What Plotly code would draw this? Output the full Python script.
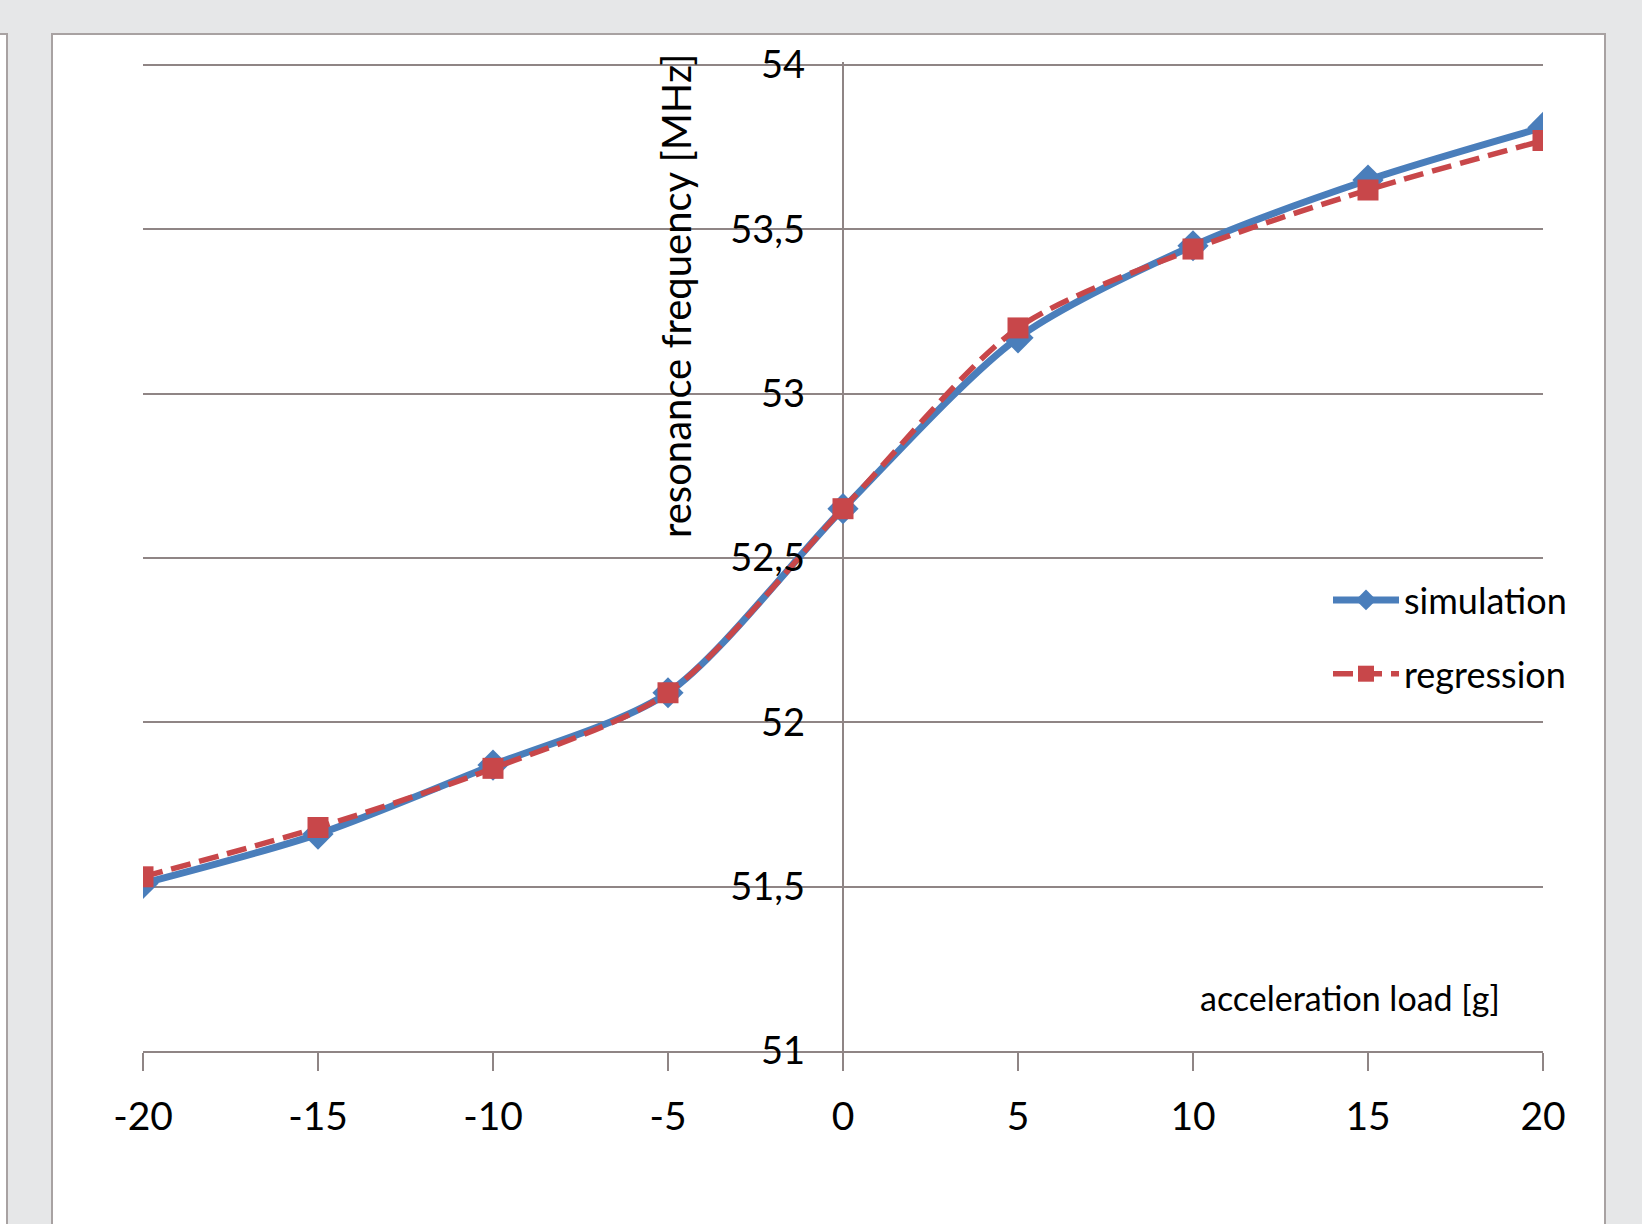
import plotly.graph_objects as go

# acceleration load [g]
load_g = [-20, -15, -10, -5, 0, 5, 10, 15, 20]
# resonance frequency [MHz]
simulation = [51.51, 51.66, 51.87, 52.09, 52.65, 53.17, 53.45, 53.65, 53.81]
regression = [51.53, 51.68, 51.86, 52.09, 52.65, 53.20, 53.44, 53.62, 53.77]

x_ticks = [-20, -15, -10, -5, 0, 5, 10, 15, 20]
x_tick_text = [str(v) for v in x_ticks]
y_ticks = [51, 51.5, 52, 52.5, 53, 53.5, 54]

W, H = 1642, 1224
FONT = "Lato"
GRID = "#8f8585"
BLUE = "#4a7ebb"
RED = "#c8474a"

# y range padded a hair above 54 so the top grid line is kept
Y_LO, Y_HI = 50.999, 54.01
Y_PX_PER_UNIT = (1051 - 65) / 3.0


def px(x):
    return x / W


def py(y):
    return 1 - y / H


fig = go.Figure()

fig.add_trace(go.Scatter(
    x=load_g, y=simulation, name="simulation", mode="lines+markers",
    line=dict(color=BLUE, width=7, shape="spline", smoothing=0.8),
    marker=dict(symbol="diamond", size=24, color=BLUE),
    legendgroup="a",
))
fig.add_trace(go.Scatter(
    x=load_g, y=regression, name="regression", mode="lines+markers",
    line=dict(color=RED, width=5.5, shape="spline", smoothing=0.8, dash="20px,9px"),
    marker=dict(symbol="square", size=21, color=RED),
    legendgroup="b",
))

# page panels behind the chart
shapes = [
    dict(type="rect", xref="paper", yref="paper", layer="below",
         x0=px(52), x1=px(1605), y0=py(1260), y1=py(34),
         fillcolor="white", line=dict(color="#a8a2a2", width=2)),
    dict(type="rect", xref="paper", yref="paper", layer="below",
         x0=px(-20), x1=px(7), y0=py(1260), y1=py(34),
         fillcolor="white", line=dict(color="#a8a2a2", width=2)),
]

annotations = [
    dict(text="resonance frequency [MHz]", xref="paper", yref="paper",
         x=px(676), y=py(296), textangle=-90, showarrow=False,
         xanchor="center", yanchor="middle",
         font=dict(family=FONT, size=40, color="black")),
    dict(text="acceleration load [g]", xref="paper", yref="paper",
         x=px(1350), y=py(997), showarrow=False,
         xanchor="center", yanchor="middle",
         font=dict(family=FONT, size=34, color="black")),
]

fig.update_layout(
    width=W, height=H,
    margin=dict(l=0, r=0, t=0, b=0, pad=0, autoexpand=False),
    paper_bgcolor="#e6e7e8",
    plot_bgcolor="rgba(0,0,0,0)",
    separators=",.",
    shapes=shapes,
    annotations=annotations,
    showlegend=True,
    legend=dict(
        x=px(1328), y=py(570), xanchor="left", yanchor="top",
        bgcolor="white", borderwidth=0,
        font=dict(family=FONT, size=36, color="black"),
        tracegroupgap=24, itemwidth=66,
    ),
    xaxis=dict(
        domain=[px(143), px(1543)],
        range=[-20, 20], tickvals=x_ticks, ticktext=x_tick_text,
        showgrid=False, automargin=False,
        zeroline=True, zerolinecolor=GRID, zerolinewidth=2,
        showline=True, linecolor=GRID, linewidth=2,
        ticks="outside", ticklen=18, tickwidth=2, tickcolor=GRID,
        ticklabelstandoff=12,
        tickfont=dict(family=FONT, size=39, color="black"),
        anchor="y",
    ),
    yaxis=dict(
        domain=[py(1051 + (51 - Y_LO) * Y_PX_PER_UNIT),
                py(65 - (Y_HI - 54) * Y_PX_PER_UNIT)],
        range=[Y_LO, Y_HI], tickvals=y_ticks,
        showgrid=True, gridcolor=GRID, gridwidth=2, automargin=False,
        zeroline=False, showline=False, ticks="",
        anchor="free", position=px(843),
        ticklabelstandoff=38,
        tickfont=dict(family=FONT, size=38, color="black"),
    ),
)

fig.write_html("out.html")
